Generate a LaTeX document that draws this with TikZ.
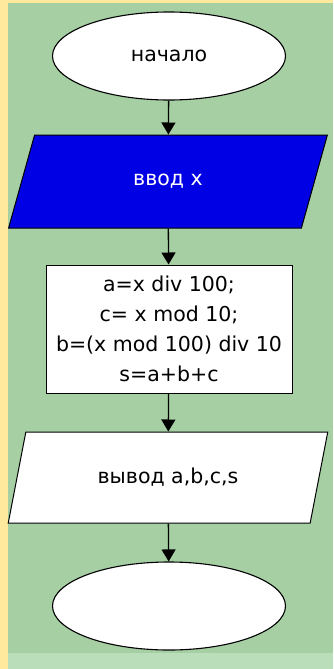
\documentclass[tikz,border=0pt]{standalone}
\usepackage{fontspec}
\setmainfont{DejaVu Sans}
\usetikzlibrary{shapes.geometric,arrows.meta}
\definecolor{bgyellow}{RGB}{255,233,156}
\definecolor{bggreen}{RGB}{166,207,164}
\definecolor{bglight}{RGB}{186,221,186}
\definecolor{ioblue}{RGB}{0,0,228}
\tikzset{
  terminal/.style={ellipse,draw=black,line width=1.1pt,fill=white,minimum width=233pt,minimum height=88pt,inner sep=0pt},
  iobox/.style={trapezium,trapezium stretches=true,trapezium left angle=64.7,trapezium right angle=115.3,draw=black,line width=1pt,minimum width=320pt,inner sep=0pt},
  procbox/.style={rectangle,draw=black,line width=1pt,fill=white,minimum width=246pt,minimum height=128pt,inner sep=0pt,align=center},
  flow/.style={line width=1.3pt,-{Triangle[width=14pt,length=12pt]}},
  txt/.style={font=\fontsize{20.5}{30}\selectfont}
}
\begin{document}
\begin{tikzpicture}[x=1pt,y=-1pt]
\useasboundingbox (0,0) rectangle (333,669);
\fill[bgyellow] (0,0) rectangle (333,669);
\fill[bggreen] (8,3) rectangle (333,653);
\fill[bglight] (8,653) rectangle (333,669);
\node[terminal,txt] (start) at (169,56) {начало};
\node[iobox,fill=ioblue,text=white,minimum height=93pt,txt] (in) at (168,181.5) {ввод x};
\node[procbox,txt] (calc) at (169,329) {a=x div 100;\\c= x mod 10;\\b=(x mod 100) div 10\\s=a+b+c};
\node[iobox,fill=white,minimum height=91pt,txt] (out) at (168,477.5) {вывод a,b,c,s};
\node[terminal] (stop) at (169,606) {};
\draw[flow] (start) -- (in);
\draw[flow] (in) -- (calc);
\draw[flow] (calc) -- (out);
\draw[flow] (out) -- (stop);
\end{tikzpicture}
\end{document}
